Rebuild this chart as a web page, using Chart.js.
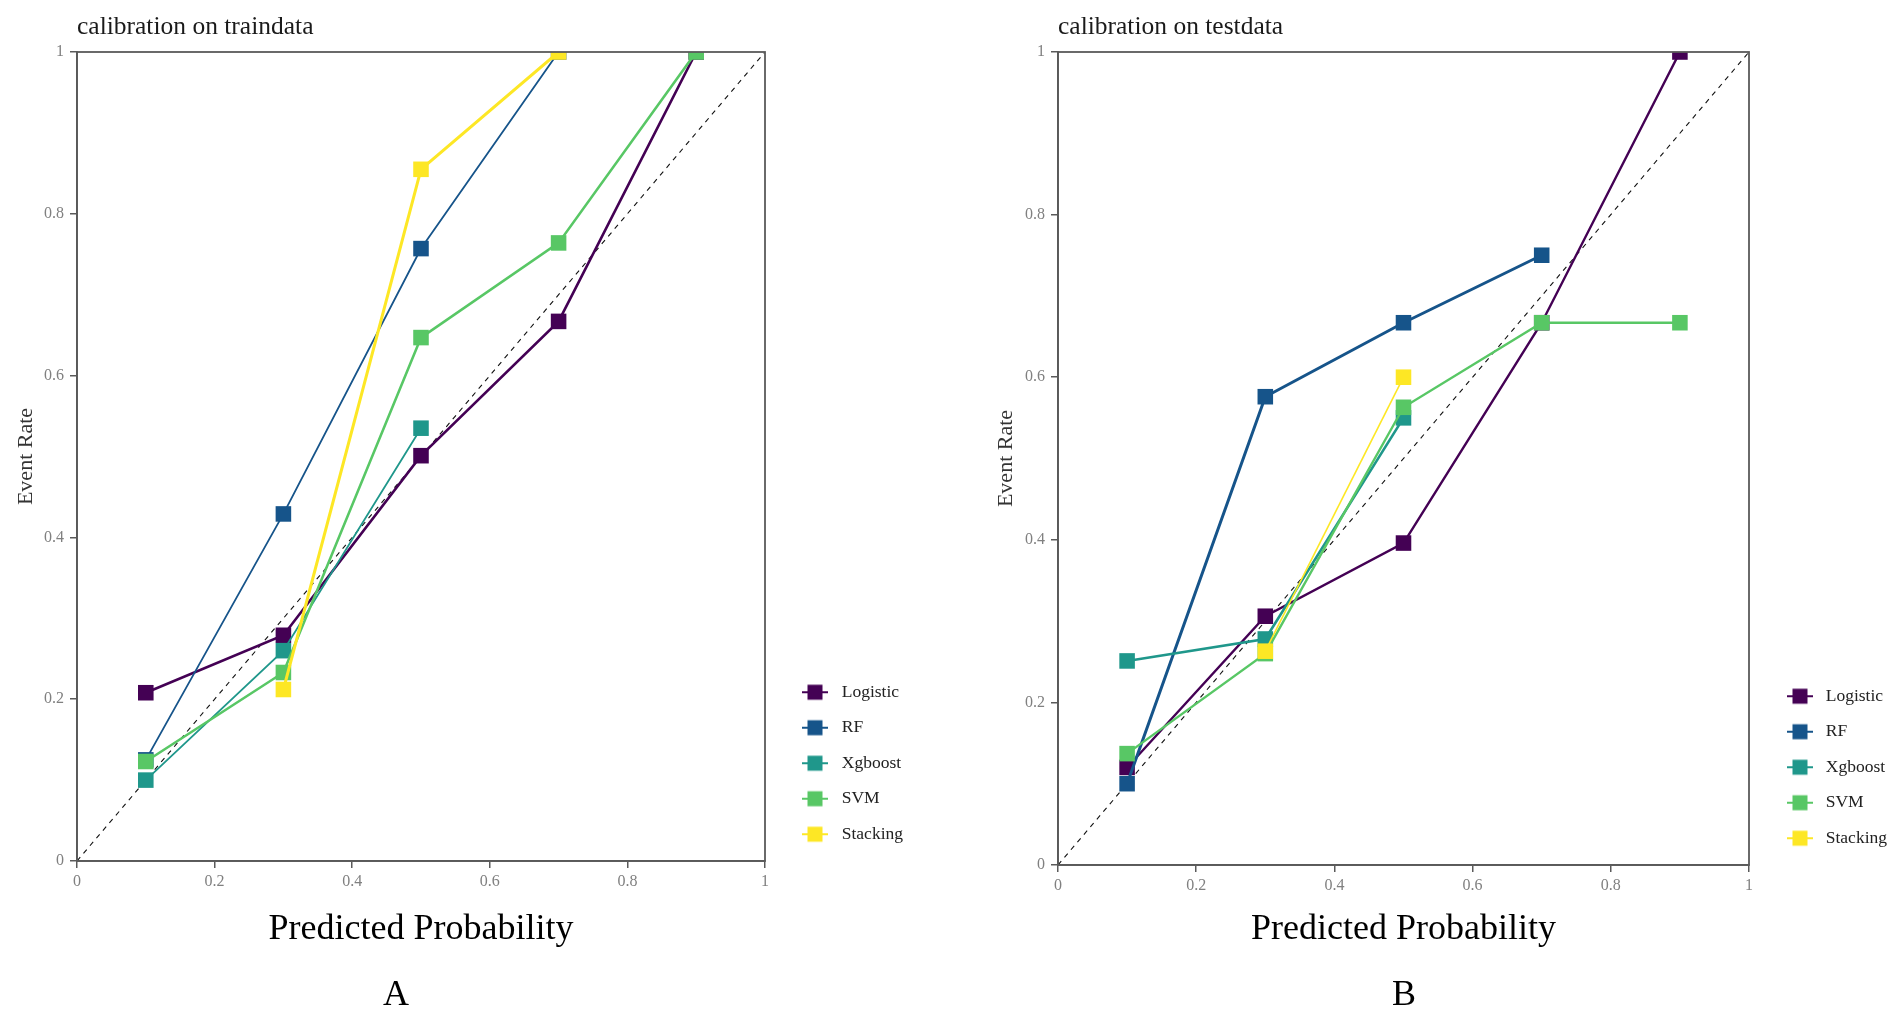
<!DOCTYPE html>
<html><head><meta charset="utf-8">
<script src="https://cdn.jsdelivr.net/npm/chart.js@4.4.1/dist/chart.umd.min.js"></script>
<style>
html,body{margin:0;padding:0;background:#fff;width:1901px;height:1014px;overflow:hidden;}
.panel{position:absolute;top:0;height:1014px;}
.panel canvas{display:block}
.lab{position:absolute;font-family:'Liberation Serif','Times New Roman',serif;font-size:36px;line-height:36px;color:#000;transform:translate(-50%,-50%);white-space:nowrap;}
</style></head><body>
<div class="panel" style="left:0;width:950px"><canvas id="cA" width="950" height="1014"></canvas></div>
<div class="panel" style="left:980px;width:921px"><canvas id="cB" width="921" height="1014"></canvas></div>
<div class="lab" style="left:396px;top:993px">A</div>
<div class="lab" style="left:1404px;top:993px">B</div>
<script>
// ---- data ----
const bins = [0.1, 0.3, 0.5, 0.7, 0.9];
const seriesNames = ['Logistic', 'RF', 'Xgboost', 'SVM', 'Stacking'];
const tickValues = [0, 0.2, 0.4, 0.6, 0.8, 1];
const tickLabels = ['0', '0.2', '0.4', '0.6', '0.8', '1'];
const refLine = [0, 1];

const trainLogistic = [0.208, 0.279, 0.501, 0.667, 1.0];
const trainRF       = [0.125, 0.429, 0.757, 1.0, null];
const trainXgboost  = [0.100, 0.260, 0.535, null, null];
const trainSVM      = [0.123, 0.233, 0.647, 0.764, 1.0];
const trainStacking = [null, 0.212, 0.855, 1.0, null];

const testLogistic = [0.120, 0.306, 0.396, 0.667, 1.0];
const testRF       = [0.100, 0.576, 0.667, 0.750, null];
const testXgboost  = [0.251, 0.278, 0.550, null, null];
const testSVM      = [0.137, 0.260, 0.563, 0.667, 0.667];
const testStacking = [null, 0.263, 0.600, null, null];

const trainTitle = 'calibration on traindata';
const testTitle = 'calibration on testdata';

// ---- styles ----
const colors = ['#440154', '#16548A', '#1F978B', '#58C765', '#FDE725'];
const trainWidths = [2.6, 1.8, 1.8, 2.6, 3.0];
const testWidths = [2.4, 3.0, 2.6, 2.4, 1.6];
const FAM = "'Liberation Serif','Times New Roman',serif";
const AXIS = '#5a5a5a';

function legendIcon(color, offset) {
  const c = document.createElement('canvas');
  c.width = 50; c.height = 20;
  const g = c.getContext('2d');
  g.strokeStyle = color; g.lineWidth = 2;
  g.beginPath(); g.moveTo(offset, 10); g.lineTo(offset + 26, 10); g.stroke();
  g.fillStyle = color;
  g.fillRect(offset + 13 - 7.5, 10 - 7.5, 15, 15);
  return c;
}

const boxPlugin = {
  id: 'box',
  afterDraw(chart) {
    const {ctx, chartArea: a} = chart;
    ctx.save();
    ctx.strokeStyle = AXIS; ctx.lineWidth = 1.8;
    ctx.strokeRect(a.left, a.top, a.right - a.left, a.bottom - a.top);
    ctx.restore();
  }
};

function build(canvasId, title, series, widths, opts) {
  const icons = colors.map(c => legendIcon(c, opts.iconOffset));
  const datasets = series.map((vals, i) => ({
    label: seriesNames[i],
    data: vals.map((v, j) => ({x: bins[j], y: v})),
    borderColor: colors[i],
    backgroundColor: colors[i],
    borderWidth: widths[i],
    pointStyle: 'rect',
    pointRadius: 11,
    pointBorderWidth: 0,
    pointBackgroundColor: colors[i],
    spanGaps: false,
    tension: 0,
    order: 5 - i
  }));
  datasets.push({
    label: 'ref',
    data: refLine.map(v => ({x: v, y: v})),
    borderColor: '#111',
    borderWidth: 1.1,
    borderDash: [5, 5],
    pointRadius: 0,
    order: 10
  });
  const chart = new Chart(document.getElementById(canvasId), {
    type: 'line',
    data: {datasets},
    plugins: [boxPlugin],
    options: {
      responsive: false,
      animation: false,
      events: [],
      layout: {padding: {left: 0, top: 0, right: 20, bottom: 53}},
      plugins: {
        tooltip: {enabled: false},
        title: {
          display: true, text: title, align: 'start', fullSize: false,
          color: '#1a1a1a', font: {family: FAM, size: 25.5, weight: 'normal'},
          padding: {top: 11.7, bottom: 9.7}
        },
        legend: {
          position: 'right', align: 'end', fullSize: false,
          labels: {
            usePointStyle: true, pointStyleWidth: 50, padding: 18,
            color: '#222', font: {family: FAM, size: 17.5},
            filter: item => item.datasetIndex < 5,
            sort: (a, b) => a.datasetIndex - b.datasetIndex,
            generateLabels: chart => {
              const items = Chart.defaults.plugins.legend.labels.generateLabels(chart);
              items.forEach(it => { if (it.datasetIndex < 5) it.pointStyle = icons[it.datasetIndex]; });
              return items;
            }
          }
        }
      },
      scales: {
        x: {
          type: 'linear', min: 0, max: 1,
          afterBuildTicks: s => { s.ticks = tickValues.map(v => ({value: v})); },
          afterFit: s => { s.height = opts.xHeight; },
          ticks: {callback: (v, i) => tickLabels[i], color: '#808080', font: {family: FAM, size: 16}, padding: 4, maxRotation: 0, autoSkip: false},
          grid: {drawOnChartArea: false, drawTicks: true, tickLength: 7, color: AXIS, lineWidth: 1.5},
          border: {display: true, color: AXIS, width: 1.8},
          title: {display: true, text: 'Predicted Probability', color: '#000', font: {family: FAM, size: 36}, padding: {top: 0, bottom: 9.4}}
        },
        y: {
          type: 'linear', min: 0, max: 1,
          afterBuildTicks: s => { s.ticks = tickValues.map(v => ({value: v})); },
          afterFit: s => { s.width = opts.yWidth; },
          ticks: {callback: (v, i) => tickLabels[i], color: '#808080', font: {family: FAM, size: 16}, padding: 6, autoSkip: false},
          grid: {drawOnChartArea: false, drawTicks: true, tickLength: 7, color: AXIS, lineWidth: 1.5},
          border: {display: true, color: AXIS, width: 1.8},
          title: {display: true, text: 'Event Rate', color: '#333', font: {family: FAM, size: 22}, padding: {top: 13, bottom: 0}}
        }
      }
    }
  });
  // align the plot's right edge with the target by adjusting outer padding
  const dx = chart.chartArea.right - opts.targetRight;
  if (Math.abs(dx) > 0.2) {
    chart.options.layout.padding.right = Math.max(0, 20 + dx);
    chart.update();
  }
  return chart;
}

build('cA', trainTitle, [trainLogistic, trainRF, trainXgboost, trainSVM, trainStacking], trainWidths,
  {targetRight: 765, xHeight: 100, yWidth: 77, iconOffset: 19});
build('cB', testTitle, [testLogistic, testRF, testXgboost, testSVM, testStacking], testWidths,
  {targetRight: 769, xHeight: 96, yWidth: 78, iconOffset: 20});
</script>
</body></html>
